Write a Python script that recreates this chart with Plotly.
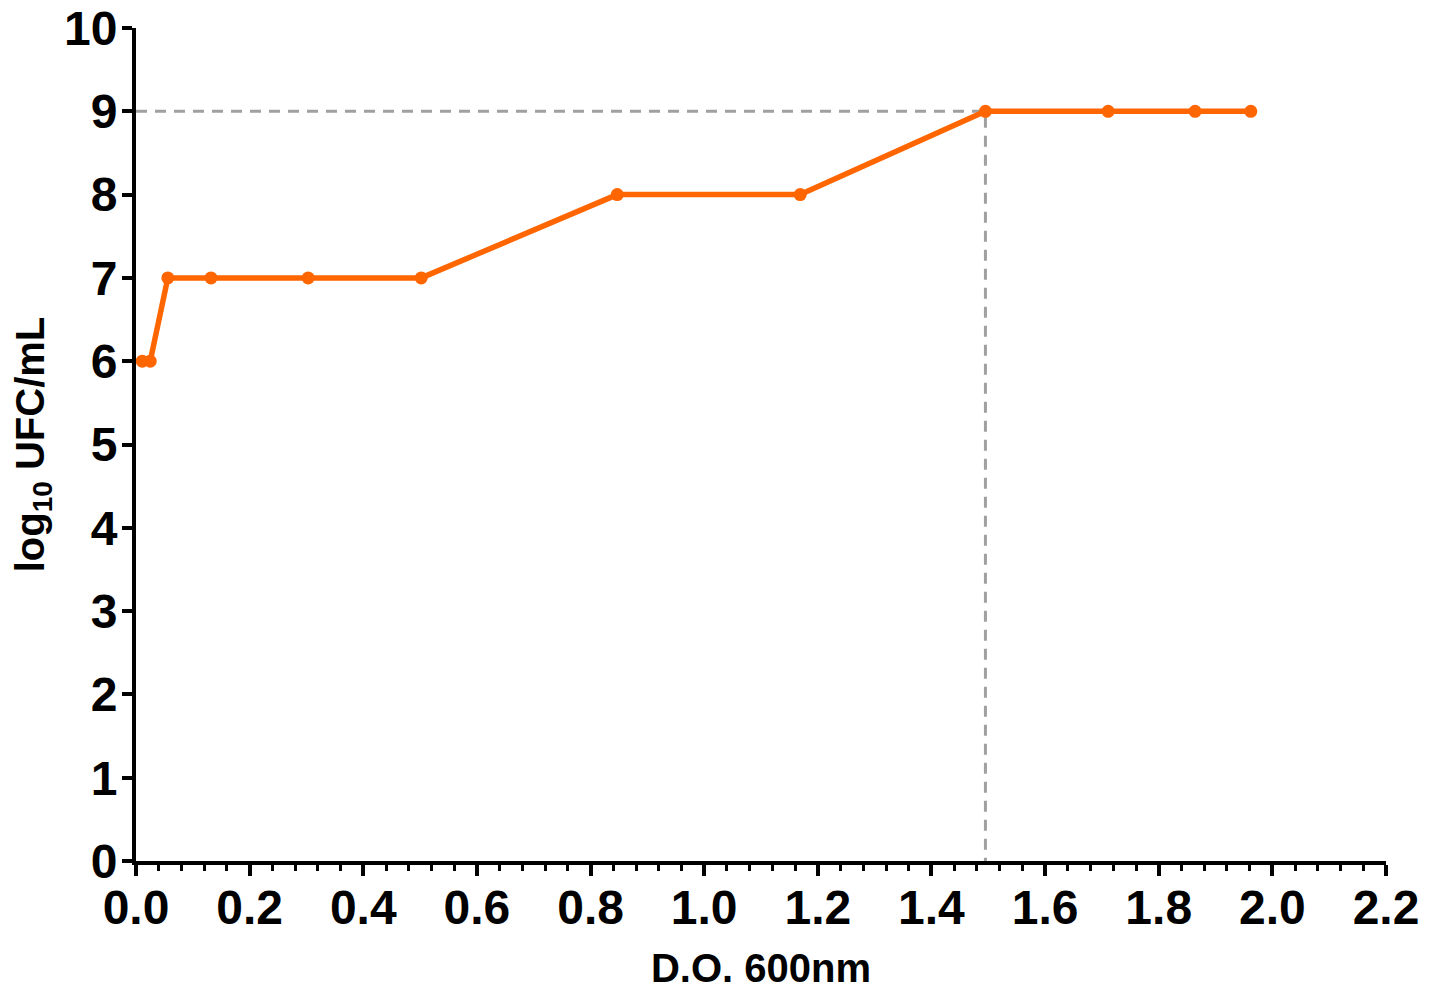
import plotly.graph_objects as go

# Data
od600 = [0.011, 0.025, 0.056, 0.132, 0.303, 0.502, 0.847, 1.169, 1.495, 1.711, 1.864, 1.962]
log_cfu = [6, 6, 7, 7, 7, 7, 8, 8, 9, 9, 9, 9]

# Reference guide (dashed) lines
ref_x = [0, 1.495, 1.495]
ref_y = [9, 9, 0]

x_ticks = [0.0, 0.2, 0.4, 0.6, 0.8, 1.0, 1.2, 1.4, 1.6, 1.8, 2.0, 2.2]
x_tick_text = ["0.0", "0.2", "0.4", "0.6", "0.8", "1.0", "1.2", "1.4", "1.6", "1.8", "2.0", "2.2"]
y_ticks = list(range(0, 11))

ORANGE = "#FF6600"
GRAY = "#A0A0A0"
FONT = "Liberation Sans, Arial, sans-serif"

fig = go.Figure()
fig.add_trace(go.Scatter(
    x=ref_x, y=ref_y, mode="lines",
    line=dict(color=GRAY, width=3, dash="11px,8px"),
    hoverinfo="skip", showlegend=False, cliponaxis=False,
))
fig.add_trace(go.Scatter(
    x=od600, y=log_cfu, mode="lines+markers",
    line=dict(color=ORANGE, width=5.5),
    marker=dict(color=ORANGE, size=13),
    showlegend=False, cliponaxis=False,
))

# the page body has an 8px default margin, so the figure is sized to compensate
fig.update_layout(
    width=1433, height=984,
    margin=dict(l=128, r=55, t=20, b=131),
    plot_bgcolor="white", paper_bgcolor="white",
    font=dict(family=FONT, color="black"),
)
fig.update_xaxes(
    range=[0, 2.2], showgrid=False, zeroline=False, automargin=False,
    showline=True, linecolor="black", linewidth=4,
    tickmode="array", tickvals=x_ticks, ticktext=x_tick_text,
    ticks="outside", ticklen=11, tickwidth=4, tickcolor="black",
    ticklabelstandoff=-10, ticklabeloverflow="allow",
    tickfont=dict(size=48, family=FONT, weight="bold"),
    minor=dict(dtick=0.04, ticks="outside", ticklen=6, tickwidth=3, tickcolor="black", showgrid=False),
    title=dict(text="D.O. 600nm", font=dict(size=40, family=FONT, weight="bold"), standoff=22),
)
fig.update_yaxes(
    range=[0, 10], showgrid=False, zeroline=False, automargin=False,
    showline=True, linecolor="black", linewidth=4,
    tickmode="array", tickvals=y_ticks,
    ticks="outside", ticklen=10, tickwidth=4, tickcolor="black",
    ticklabelstandoff=-5, ticklabeloverflow="allow",
    tickfont=dict(size=48, family=FONT, weight="bold"),
    title=dict(text="log<sub>10</sub> UFC/mL", font=dict(size=40, family=FONT, weight="bold"), standoff=38),
)

fig.write_html("out.html")
